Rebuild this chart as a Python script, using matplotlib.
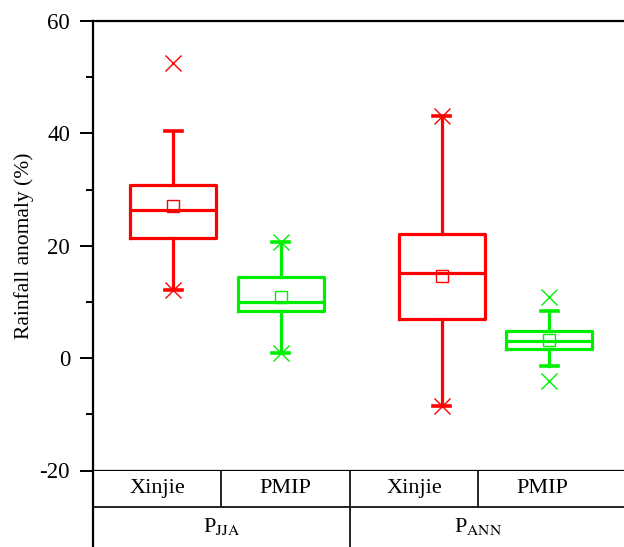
import numpy as np
import matplotlib
matplotlib.use("Agg")
import matplotlib.pyplot as plt

plt.rcParams['font.family'] = ['Liberation Serif', 'DejaVu Serif']
plt.rcParams['mathtext.fontset'] = 'stix'
plt.rcParams['axes.unicode_minus'] = False

# rainfall anomaly statistics (%), order: Xinjie JJA, PMIP JJA, Xinjie ANN, PMIP ANN
series = ['Xinjie', 'PMIP', 'Xinjie', 'PMIP']
groups = ['P$_{\\mathrm{JJA}}$', 'P$_{\\mathrm{ANN}}$']
q1 = [21.3, 8.4, 7.0, 1.6]
med = [26.4, 9.9, 15.2, 3.1]
q3 = [30.8, 14.4, 22.1, 4.8]
mean = [27.1, 10.9, 14.6, 3.2]
whislo = [12.1, 0.9, -8.5, -1.4]
whishi = [40.4, 20.7, 43.1, 8.3]
p01 = [12.1, 0.9, -8.5, -4.0]
p99 = [52.5, 20.7, 43.1, 10.8]

positions = [1, 2, 3.5, 4.5]
colors = ['#ff0000', '#00ee00', '#ff0000', '#00ee00']

W, H = 624, 547
fig = plt.figure(figsize=(W / 100, H / 100), dpi=100)

y_top, y_bot, x_left = 21, 470.5, 93
ax = fig.add_axes([x_left / W, (H - y_bot) / H, (W - x_left) / W, (y_bot - y_top) / H])

for i in range(4):
    st = [dict(med=med[i], q1=q1[i], q3=q3[i], whislo=whislo[i], whishi=whishi[i],
               mean=mean[i], fliers=[p01[i], p99[i]])]
    c = colors[i]
    ax.bxp(st, positions=[positions[i]], widths=0.8, capwidths=0.16,
           showmeans=True, manage_ticks=False,
           boxprops=dict(color=c, lw=2.3),
           medianprops=dict(color=c, lw=2.3),
           whiskerprops=dict(color=c, lw=2.3),
           capprops=dict(color=c, lw=2.6),
           meanprops=dict(marker='s', markerfacecolor='none', markeredgecolor=c,
                          markersize=9, markeredgewidth=1.0),
           flierprops=dict(marker='x', markeredgecolor=c, markersize=11,
                           markeredgewidth=1.0, linestyle='none'))

ax.set_xlim(0.252, 5.196)
ax.set_ylim(-20, 60)
ax.set_yticks([-20, 0, 20, 40, 60])
ax.set_yticks([-10, 10, 30, 50], minor=True)
ax.tick_params(axis='y', which='major', direction='out', length=9.5, width=1.4,
               labelsize=16.5, pad=7)
ax.tick_params(axis='y', which='minor', direction='out', length=5, width=1.4)
ax.set_xticks([])
ax.spines['right'].set_visible(False)
for s in ['left', 'top', 'bottom']:
    ax.spines[s].set_linewidth(1.6)
ax.set_ylabel('Rainfall anomaly (%)', fontsize=15.5, labelpad=4)

# category table below the plot
col_w = 128.4
tab = fig.add_axes([x_left / W, 0, (W - x_left) / W, (H - y_bot) / H])
tab.set_xlim(0, (W - x_left) / col_w)
tab.set_ylim(0, 1)
tab.set_xticks([])
tab.set_yticks([])
for s in ['right', 'top', 'bottom']:
    tab.spines[s].set_visible(False)
tab.spines['left'].set_linewidth(1.6)
row1 = 1 - 36.2 / (H - y_bot)
tab.axhline(row1, color='#222222', lw=1.4)
for xc in [1, 3]:
    tab.plot([xc, xc], [row1, 1], color='#222222', lw=1.4)
tab.plot([2, 2], [0, 1], color='#222222', lw=1.4)
for i, name in enumerate(series):
    tab.text(i + 0.5, (1 + row1) / 2, name, ha='center', va='center', fontsize=16)
for j, g in enumerate(groups):
    tab.text(2 * j + 1, 0.27, g, ha='center', va='center', fontsize=16)

fig.savefig('out.png', dpi=100)
